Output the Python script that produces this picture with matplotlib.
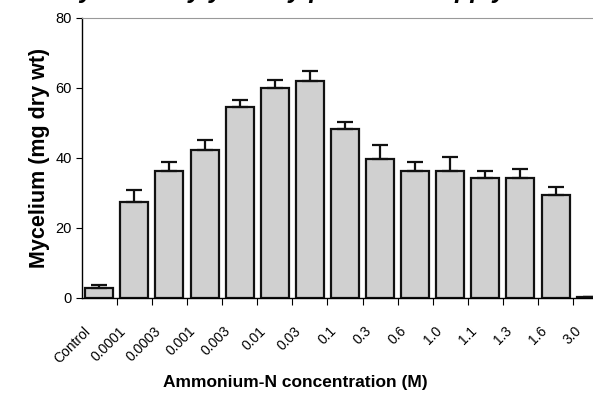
import matplotlib
matplotlib.use('Agg')
import matplotlib.pyplot as plt
import matplotlib.transforms as mtransforms
import numpy as np

plt.rcParams['font.family'] = ['Liberation Sans', 'DejaVu Sans']

categories = ['Control', '0.0001', '0.0003', '0.001', '0.003', '0.01', '0.03', '0.1',
              '0.3', '0.6', '1.0', '1.1', '1.3', '1.6', '3.0']
mycelium = [2.9, 27.3, 36.1, 42.3, 54.6, 59.9, 62.0, 48.3,
            39.7, 36.2, 36.2, 34.2, 34.2, 29.4, 0.1]
errors = [0.8, 3.5, 2.8, 2.7, 2.0, 2.2, 2.7, 2.0,
          4.0, 2.7, 4.0, 2.0, 2.7, 2.1, 0.2]

fig = plt.figure(figsize=(5.93, 4.07), dpi=100)
ax = fig.add_axes([81.7 / 593, 109.3 / 407, 526.5 / 593, 280 / 407])

x = np.arange(len(categories))
ax.bar(x, mycelium, width=0.8, color='#d0d0d0', edgecolor='#111111', linewidth=1.6,
       yerr=[np.zeros(len(errors)), errors], capsize=5.5,
       error_kw=dict(ecolor='#111111', elinewidth=1.6, capthick=1.6), zorder=2)

ax.set_xlim(-0.5, len(categories) - 0.5)
ax.set_ylim(0, 80)
ax.set_yticks([0, 20, 40, 60, 80])

ax.set_xticks(x)
ax.set_xticks(x[:-1] + 0.5, minor=True)
ax.set_xticklabels(categories, rotation=45, ha='right', rotation_mode='anchor', fontsize=10)
ax.tick_params(axis='x', which='major', length=0, pad=22.5)
ax.tick_params(axis='x', which='minor', length=5, direction='out', width=0.8)
ax.tick_params(axis='y', length=4, direction='out', width=0.8, labelsize=10.5, pad=3)
offset = mtransforms.ScaledTranslation(-0.11, 0, fig.dpi_scale_trans)
for lab in ax.get_xticklabels():
    lab.set_verticalalignment('center')
    lab.set_transform(lab.get_transform() + offset)

ax.spines['top'].set_color('#999999')
ax.spines['right'].set_visible(False)
ax.spines['left'].set_linewidth(1.0)
ax.spines['bottom'].set_linewidth(1.0)

ax.set_ylabel('Mycelium (mg dry wt)', fontsize=15.5, fontweight='bold', labelpad=4)
fig.text(0.498, 0.06, 'Ammonium-N concentration (M)', fontsize=12.5, fontweight='bold',
         ha='center', va='center')

# title sits above the top edge, only descenders show
fig.text(0.1, 1.004, 'Mycelial dry yield by pH and N supply', fontsize=18,
         fontweight='bold', fontstyle='italic', ha='left', va='baseline')

fig.savefig('out.png', dpi=100)
